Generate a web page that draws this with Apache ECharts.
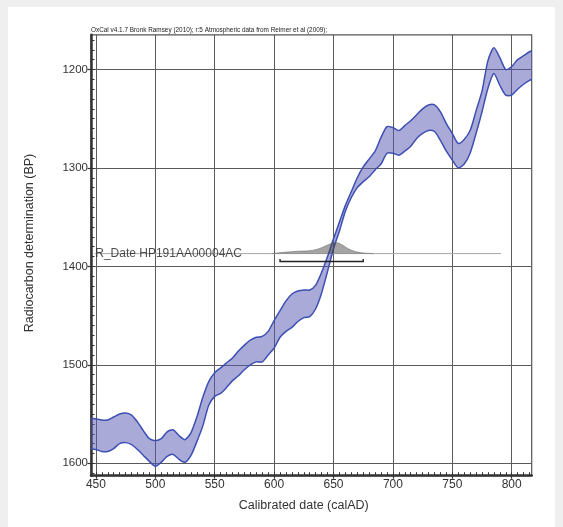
<!DOCTYPE html>
<html><head><meta charset="utf-8">
<script src="https://cdn.jsdelivr.net/npm/echarts@6/dist/echarts.min.js"></script>
<style>
html,body{margin:0;padding:0;background:#efefef;width:563px;height:527px;overflow:hidden}
#card{position:absolute;left:8px;top:7px;width:547px;height:520px;background:#fff}
#chart{position:absolute;left:0;top:0;width:563px;height:527px}
</style></head><body><div id="card"></div><div id="chart"></div>
<script>
// ---- data ----
const years = [445,450,455,460,465,470,475,480,485,490,495,500,505,510,515,520,525,530,535,540,545,550,555,560,565,570,575,580,585,590,595,600,605,610,615,620,625,630,635,640,645,650,655,660,665,670,675,680,685,690,695,700,705,710,715,720,725,730,735,740,745,750,755,760,765,770,775,780,785,790,795,800,805,810,815,820];
const upperBP = [1554,1555,1556,1556,1553,1550,1549,1551,1558,1567,1575,1577,1575,1568,1566,1572,1576,1569,1553,1533,1517,1508,1503,1498,1493,1486,1480,1475,1472,1471,1466,1455,1445,1435,1428,1425,1424,1424,1419,1406,1390,1372,1355,1338,1324,1310,1299,1291,1283,1269,1258,1259,1262,1257,1252,1246,1240,1236,1236,1243,1255,1265,1275,1271,1262,1242,1222,1191,1178,1188,1200,1197,1190,1186,1182,1180];
const lowerBP = [1585,1586,1588,1588,1585,1580,1579,1581,1586,1592,1598,1603,1599,1593,1591,1596,1599,1592,1578,1562,1541,1532,1529,1523,1516,1511,1505,1500,1497,1497,1490,1483,1472,1466,1462,1456,1452,1451,1443,1427,1405,1382,1364,1344,1330,1320,1314,1309,1302,1296,1285,1285,1287,1283,1278,1270,1265,1262,1263,1272,1283,1292,1300,1296,1285,1265,1243,1219,1204,1216,1226,1226,1220,1215,1211,1209];

const rdateName = 'R_Date HP191AA00004AC';
const rdateBP = 1387;
const rdateLineYears = [449, 791];
const distYears = [598,602,606,610,615,620,625,630,635,640,645,648,651,654,657,660,663,666,670,675,680,684];
const distTopBP = [1387,1386.5,1386,1385.5,1385,1384.6,1384.4,1384,1383,1381,1378.3,1376.8,1375.7,1376.2,1378,1380.2,1382.4,1384,1385.4,1386.3,1386.8,1387];
const rangeYears = [605, 675];
const rangeBP = 1395;
const rangeTickBP = 1392.5;

const xTickValues = [450,500,550,600,650,700,750,800];
const yTickValues = [1200,1300,1400,1500,1600];
const xMinorStep = 5, yMinorStep = 10;

const headerText = 'OxCal v4.1.7 Bronk Ramsey (2010); r:5 Atmospheric data from Reimer et al (2009);';
const xName = 'Calibrated date (calAD)';
const yName = 'Radiocarbon determination (BP)';

// ---- layout ----
const W = 563, H = 527;
const PXY = 1.188, X0 = 95.9;      // px per year, pixel of 450
const PXB = 0.9845, Y0 = 69.5;     // px per BP, pixel of 1200
const frame = {l: 91, t: 34.8, r: 531.7, b: 475.7};
const xv = p => xTickValues[0] + (p - X0) / PXY;
const yv = p => yTickValues[0] + (p - Y0) / PXB;
const xp = v => X0 + (v - xTickValues[0]) * PXY;
const yp = v => Y0 + (v - yTickValues[0]) * PXB;

const xMin = xv(frame.l), xMax = xv(frame.r);
const yMin = yv(frame.t), yMax = yv(frame.b);
const xMajMin = xTickValues[0], xMajMax = xTickValues[xTickValues.length-1];
const yMajMin = yTickValues[0], yMajMax = yTickValues[yTickValues.length-1];
const xMinMin = Math.ceil(xMin / xMinorStep) * xMinorStep, xMinMax = Math.floor(xMax / xMinorStep) * xMinorStep;
const yMinMin = Math.ceil(yMin / yMinorStep) * yMinorStep, yMinMax = Math.floor(yMax / yMinorStep) * yMinorStep;

function g(l, t, r, b, extra) {
  return Object.assign({left: l, top: t, width: r - l, height: b - t, containLabel: false}, extra || {});
}
const grids = [
  g(frame.l, frame.t, frame.r, frame.b, {show: true, borderColor: '#555', borderWidth: 1.2, backgroundColor: 'transparent'}),
  g(xp(xMajMin), frame.t, xp(xMajMax), frame.b),
  g(xp(xMinMin), frame.t, xp(xMinMax), frame.b),
  g(frame.l, yp(yMajMin), frame.r, yp(yMajMax)),
  g(frame.l, yp(yMinMin), frame.r, yp(yMinMax))
];
const hiddenAxis = (gi) => ({type: 'value', gridIndex: gi, show: false, min: 0, max: 1});
const noStuff = {axisLine: {show: false}, axisTick: {show: false}, axisLabel: {show: false}, splitLine: {show: false}};
const gridLine = {show: true, lineStyle: {color: '#5a5a5a', width: 1}};
const FONT = 'Liberation Sans, Arial, sans-serif';

const xAxes = [
  Object.assign({}, noStuff, {type: 'value', gridIndex: 0, min: xMin, max: xMax,
    axisLine: {show: true, onZero: false, lineStyle: {color: '#333', width: 2.5}}}),
  Object.assign({}, noStuff, {type: 'value', gridIndex: 1, min: xMajMin, max: xMajMax, interval: 50,
    splitLine: gridLine,
    axisTick: {show: true, length: 3, lineStyle: {color: '#333', width: 1.2}},
    axisLabel: {show: true, margin: 3, fontSize: 12, color: '#333', fontFamily: FONT, formatter: v => String(v)},
    name: xName, nameLocation: 'middle', nameGap: 23,
    nameTextStyle: {fontSize: 12.5, color: '#333', fontFamily: FONT}}),
  Object.assign({}, noStuff, {type: 'value', gridIndex: 2, min: xMinMin, max: xMinMax, interval: xMinorStep,
    axisTick: {show: true, inside: true, length: 3.5, lineStyle: {color: '#333', width: 1}}}),
  hiddenAxis(3), hiddenAxis(4)
];
const yAxes = [
  Object.assign({}, noStuff, {type: 'value', gridIndex: 0, min: yMin, max: yMax, inverse: true,
    axisLine: {show: true, onZero: false, lineStyle: {color: '#333', width: 2.5}}}),
  hiddenAxis(1), hiddenAxis(2),
  Object.assign({}, noStuff, {type: 'value', gridIndex: 3, min: yMajMin, max: yMajMax, interval: 100, inverse: true,
    splitLine: gridLine,
    axisTick: {show: true, length: 3.5, lineStyle: {color: '#333', width: 1.2}},
    axisLabel: {show: true, margin: 3, fontSize: 11.5, color: '#333', fontFamily: FONT, formatter: v => String(v)}}),
  Object.assign({}, noStuff, {type: 'value', gridIndex: 4, min: yMinMin, max: yMinMax, interval: yMinorStep, inverse: true,
    axisTick: {show: true, inside: true, length: 3.5, lineStyle: {color: '#333', width: 1}}})
];

const blue = '#3d4fb3';
const SMOOTH = 0.25;
const series = [
  {type: 'line', xAxisIndex: 0, yAxisIndex: 0, symbol: 'none', silent: true,
   data: rdateLineYears.map(y => [y, rdateBP]), lineStyle: {color: '#a8a8a8', width: 1}, z: 1},
  {type: 'scatter', xAxisIndex: 0, yAxisIndex: 0, symbolSize: 1, silent: true,
   itemStyle: {color: 'transparent'},
   data: [[rdateLineYears[0], rdateBP]],
   label: {show: true, position: 'right', distance: 0, formatter: rdateName, fontSize: 12, color: '#222', fontFamily: FONT}, z: 6},
  // calibration band (upper/lower envelope)
  {type: 'custom', xAxisIndex: 0, yAxisIndex: 0, silent: true, clip: true, z: 3,
   data: [[years[0], upperBP[0], lowerBP[0]]],
   renderItem: (params, api) => {
     const up = years.map((y, i) => api.coord([y, upperBP[i]]));
     const lo = years.map((y, i) => api.coord([y, lowerBP[i]]));
     const poly = up.concat(lo.slice().reverse());
     return {type: 'group', children: [
       {type: 'polygon', shape: {points: poly, smooth: SMOOTH}, style: {fill: 'rgba(85,85,177,0.5)', stroke: null}},
       {type: 'polyline', shape: {points: up, smooth: SMOOTH}, style: {stroke: blue, lineWidth: 1.5, fill: null}},
       {type: 'polyline', shape: {points: lo, smooth: SMOOTH}, style: {stroke: blue, lineWidth: 1.5, fill: null}}
     ]};
   }},
  {type: 'line', xAxisIndex: 0, yAxisIndex: 0, symbol: 'none', silent: true, smooth: true,
   data: distYears.map((y, i) => [y, distTopBP[i]]), lineStyle: {color: '#6a6a6a', width: 0.6},
   areaStyle: {color: 'rgba(70,70,70,0.7)', origin: rdateBP}, z: 4},
  // calibrated range bracket
  {type: 'custom', xAxisIndex: 0, yAxisIndex: 0, silent: true, z: 5,
   data: [[rangeYears[0], rangeBP]],
   renderItem: (params, api) => {
     const pts = [
       api.coord([rangeYears[0], rangeTickBP]), api.coord([rangeYears[0], rangeBP]),
       api.coord([rangeYears[1], rangeBP]), api.coord([rangeYears[1], rangeTickBP])
     ];
     return {type: 'polyline', shape: {points: pts}, style: {stroke: '#222', lineWidth: 1.4, fill: null}};
   }}
];

const chart = echarts.init(document.getElementById('chart'), null, {renderer: 'canvas'});
chart.setOption({
  animation: false,
  backgroundColor: 'transparent',
  grid: grids,
  xAxis: xAxes,
  yAxis: yAxes,
  series: series,
  graphic: [
    {type: 'text', left: frame.l, top: frame.t - 7.2, silent: true,
     style: {text: headerText, fontSize: 6.4, fill: '#222', fontFamily: FONT}},
    {type: 'text', x: 30, y: 243, rotation: Math.PI / 2, silent: true,
     style: {text: yName, fontSize: 12.5, fill: '#333', align: 'center', verticalAlign: 'middle', fontFamily: FONT}}
  ]
});
</script></body></html>
